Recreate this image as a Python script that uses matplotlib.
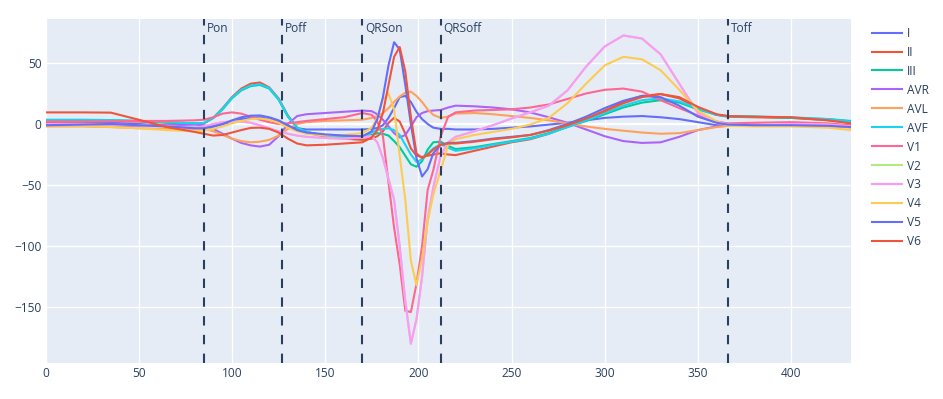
import numpy as np
import matplotlib.pyplot as plt
from matplotlib.transforms import blended_transform_factory

# sample positions (shared by all leads)
x = [0, 20, 35, 50, 65, 80, 85, 90, 95, 100, 105, 110, 115, 120, 125, 130, 135, 140,
     150, 160, 170, 175, 178, 181, 184, 187, 190, 193, 196, 199, 202, 205, 208, 212,
     216, 220, 230, 240, 250, 260, 270, 280, 290, 300, 310, 320, 330, 340, 350, 360,
     366, 380, 400, 420, 432]

lead_I = [0.5, 0.8, 1, 0, -1.5, -3, -3, -2, 0, 2, 4, 5, 5.5, 4, 1.5, -2, -3.5, -4.5,
          -4.5, -4.5, -4.5, -4, -3.3, -1, 5, 13, 22, 23, 18, 10, 4, 0, -3, -4,
          -4, -4.5, -4.5, -4, -3, -2, -0.5, 1, 3, 5, 6, 6.5, 5.5, 4, 1.5, -1,
          -1.5, -1.5, -1, -1.5, -2.5]
lead_II = [1.5, 2, 2.5, 2, 1, 0, 0.5, 5, 13, 22, 29, 33, 34, 30, 21, 7, -3, -7,
           -10.5, -12, -13, -12, -10, -6, 1, 5, 2, -8, -20, -26, -27, -26, -25, -24,
           -25, -25.5, -22, -18.5, -15, -12.5, -8, -2, 4, 11, 18, 23, 24.5, 21, 13, 7.5,
           6, 5.5, 5, 3, 1]
lead_III = [3, 3.2, 3, 2.5, 1.5, 0.5, 0.8, 5, 12, 21, 27.5, 31, 32, 29, 20, 6, -3, -6.5,
            -9.5, -10.5, -11, -9, -7.5, -8, -9.5, -14, -19, -26, -33, -35, -30.5, -21, -15, -14.5,
            -18, -20.5, -19, -16.5, -14, -11.5, -7.5, -2.5, 2.5, 8, 13.5, 17.5, 19.5, 17.5, 12, 7.5,
            6.5, 6, 5, 4, 2.5]
lead_AVR = [-1, -1, -1.5, -1.5, -1, -0.5, -1, -4, -8, -12, -15.5, -17.5, -18.5, -17, -10, 0, 6.5, 8,
            9, 10, 11, 10.5, 8, 3.5, -2, -7.5, -11, -9, -2, 5.5, 9, 10.5, 11, 11.5,
            13.5, 15, 14.5, 13.5, 12, 9.5, 5.5, 1, -4.5, -10, -14, -15.5, -15, -10.5, -5, -2,
            -1.5, -1, -1, -1, -1.5]
lead_AVL = [-2, -2, -2.5, -3.5, -4, -4, -4, -6, -9, -12, -14, -15, -14.5, -13, -9.5, -4, 0, 1.5,
            2.5, 3, 3.5, 5, 6.5, 9, 13, 18, 22.5, 25.5, 26.5, 23, 18, 12, 7.5, 5,
            6, 8.5, 9, 8, 6.5, 5, 3, 0.5, -2, -4, -5.5, -7, -8, -7.5, -5, -2.5,
            -1.5, -0.5, -1, -1.5, -3]
lead_AVF = [3.5, 3.5, 3.2, 2.5, 1.5, 0.5, 0.8, 5, 12.5, 21.5, 28, 31.5, 32.5, 29.5, 20.5, 6.5, -3, -6.5,
            -9.5, -10.5, -11, -7, -4.7, -4, -3.5, -5, -9, -17, -25, -31, -29, -24.5, -20, -16.5,
            -19.5, -22, -20, -17, -14.5, -12, -8, -2.5, 3, 9, 15, 19.5, 21, 18.5, 12.5, 7.5,
            6.5, 6, 5.5, 4, 2]
lead_V1 = [2, 2, 2.2, 2.5, 2.5, 3, 3.5, 5.5, 8.5, 9.5, 8.5, 6, 3.5, 1.5, 0, 0.5, 1.5, 2.5,
           4, 5.5, 9, 7.5, 2, -10, -48, -85, -115, -153, -154, -131, -100, -54, -38, -10,
           6, 9.5, 11, 11.5, 12, 13.5, 16, 20.5, 25, 28, 29, 26.5, 19.5, 13, 7, 2,
           0.5, 1, 1.5, 0.5, -1]
lead_V3 = [0, 0, -0.5, -1, -2, -3, -2, 0, 1.5, 2, 2, 1, -1, -3.5, -6, -8, -9.5, -10.5,
           -11.5, -12, -11, -10, -15, -28, -45, -62, -100, -145, -180, -160, -125, -78, -52, -26,
           -15, -10.5, -6, -1, 4.5, 9.5, 15, 27.5, 47, 63.5, 72.5, 70, 57, 33, 9, 2,
           -0.5, -1, 0, -0.5, -2]
# V2 is not visible in the chart: it lies underneath V3
lead_V2 = list(lead_V3)
lead_V4 = [-1, -1.5, -2.5, -3.5, -5, -6, -5.5, -4, -2, 0.5, 2.5, 4, 4.5, 3.5, 1, -3, -6, -8,
           -9.5, -9, -7.5, -3, 5, 20, 25, 12, -26, -62, -112, -132, -110, -80, -58, -38,
           -17, -12.5, -9, -6.5, -4, -0.5, 5, 17, 33, 48, 55, 53, 44, 28, 11, 2,
           -1.5, -2, -2, -3, -5]
lead_V5 = [-1, -0.5, 0, -1, -2, -3.5, -3.5, -2, 0, 3, 5.5, 6.8, 7, 5.5, 3, -1, -5, -7,
           -8.5, -9.5, -10, -6, 4, 22, 48, 67, 61, 32, 0, -28, -43, -37, -24, -17,
           -15.5, -15.5, -14, -12, -10.5, -9, -5, 0, 6, 13, 19, 23, 22, 15, 6, 1,
           -0.5, -1, -1, -1.5, -2.5]
lead_V6 = [9.5, 9.5, 9.3, 3.5, -2.5, -6.5, -8, -9.5, -9, -7, -5, -3.2, -3, -4, -7, -12, -16, -17.5,
           -17, -16, -15, -11, -5, 9, 32, 55, 63, 43, 6, -24, -28, -25, -21, -17,
           -16, -16, -14.5, -12.5, -11, -9, -5.5, -1, 4.5, 10.5, 17, 22, 24.5, 22, 14, 8,
           6.5, 6, 5.5, 3, 0.5]

leads = ["I", "II", "III", "AVR", "AVL", "AVF", "V1", "V2", "V3", "V4", "V5", "V6"]
values = [lead_I, lead_II, lead_III, lead_AVR, lead_AVL, lead_AVF,
          lead_V1, lead_V2, lead_V3, lead_V4, lead_V5, lead_V6]
colors = ["#636efa", "#EF553B", "#00cc96", "#ab63fa", "#FFA15A", "#19d3f3",
          "#FF6692", "#B6E880", "#FF97FF", "#FECB52", "#636efa", "#EF553B"]

# fiducial markers
marker_names = ["Pon", "Poff", "QRSon", "QRSoff", "Toff"]
marker_pos = [85, 127, 170, 212, 366]

plt.rcParams["font.family"] = ["Open Sans", "DejaVu Sans"]
plt.rcParams["font.size"] = 8.6
text_col = "#2a3f5f"

fig = plt.figure(figsize=(9.43, 3.99), dpi=100)
ax = fig.add_axes([0.0483, 0.0895, 0.8539, 0.8629])
ax.set_facecolor("#E5ECF6")

for name, y, c in zip(leads, values, colors):
    ax.plot(x, y, color=c, lw=1.5, label=name, zorder=3)

trans = blended_transform_factory(ax.transData, ax.transAxes)
for name, pos in zip(marker_names, marker_pos):
    ax.axvline(pos, color=text_col, lw=1.5, dashes=(4.5, 4.5), zorder=5)
    ax.annotate(name, xy=(pos, 1), xycoords=trans, xytext=(2, -2.5),
                textcoords="offset points", ha="left", va="top",
                color=text_col, fontsize=8.6, zorder=6)

ax.set_xlim(0, 432)
ax.set_ylim(-196, 86)
ax.set_xticks(range(0, 401, 50))
ax.set_yticks([-150, -100, -50, 0, 50])
ax.grid(color="white", lw=1)
ax.axhline(0, color="white", lw=1.6, zorder=1)
ax.set_axisbelow(True)
for s in ax.spines.values():
    s.set_visible(False)
ax.tick_params(length=0, colors=text_col, labelsize=8.6, pad=3)
ax.set_yticklabels(["\u2212150", "\u2212100", "\u221250", "0", "50"])

fig.legend(loc="upper left", bbox_to_anchor=(0.913, 0.96), frameon=False,
           handlelength=2.5, handletextpad=0.45, labelspacing=0.5,
           fontsize=8.6, labelcolor=text_col)

fig.savefig("out.png", dpi=100)
